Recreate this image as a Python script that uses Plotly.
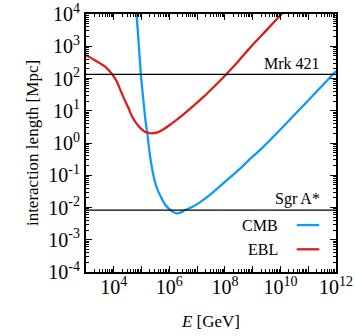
import math
import plotly.graph_objects as go

# CMB interaction length: log10(E/GeV), log10(L/Mpc)
cmb_logE = [4.78, 4.82, 4.90, 4.975, 5.06, 5.14, 5.21, 5.30, 5.39, 5.48, 5.60, 5.72, 5.84, 5.96,
            6.10, 6.26, 6.40, 6.56, 6.80, 7.10, 7.40, 7.94, 8.54, 8.90, 9.26, 10.0, 11.0, 12.0]
cmb_logL = [4.50, 4.00, 3.05, 2.12, 1.38, 0.71, 0.28, -0.37, -0.84, -1.20, -1.50, -1.71, -1.90, -2.02,
            -2.12, -2.18, -2.16, -2.08, -1.99, -1.84, -1.65, -1.25, -0.80, -0.50, -0.22, 0.42, 1.32, 2.23]

# EBL interaction length
ebl_logE = [3.0, 3.05, 3.41, 3.70, 3.94, 4.10, 4.24, 4.42, 4.52, 4.66, 4.82, 4.96, 5.12, 5.26, 5.36,
            5.60, 5.78, 6.00, 6.25, 6.50, 7.22, 7.46, 8.06, 8.50, 8.90, 9.50, 10.04, 10.3]
ebl_logL = [2.72, 2.70, 2.52, 2.36, 2.13, 1.92, 1.64, 1.28, 1.10, 0.82, 0.60, 0.46, 0.35, 0.31, 0.30,
            0.34, 0.42, 0.55, 0.71, 0.88, 1.42, 1.62, 2.14, 2.55, 2.95, 3.50, 4.00, 4.24]

# reference distances [Mpc]
sources = ["Mrk 421", "Sgr A*"]
source_dist = [134.0, 0.0083]

x_range_log = [3, 12]
y_range_log = [-4, 4]
x_tick_exp = list(range(3, 13))
y_tick_exp = list(range(-4, 5))

BLUE = "#0f9af5"
RED = "#d81e1e"
FONT = "Liberation Serif"

fig = go.Figure()
fig.add_trace(go.Scatter(x=[10 ** v for v in cmb_logE], y=[10 ** v for v in cmb_logL],
                         mode="lines", line=dict(color=BLUE, width=2.3, shape="spline", smoothing=0.6),
                         name="CMB", showlegend=False))
fig.add_trace(go.Scatter(x=[10 ** v for v in ebl_logE], y=[10 ** v for v in ebl_logL],
                         mode="lines", line=dict(color=RED, width=2.3, shape="spline", smoothing=0.6),
                         name="EBL", showlegend=False))
for name, d in zip(sources, source_dist):
    fig.add_trace(go.Scatter(x=[10 ** x_range_log[0], 10 ** x_range_log[1]], y=[d, d], mode="lines",
                             line=dict(color="black", width=1.3), showlegend=False, hoverinfo="skip"))
    fig.add_annotation(x=11.48, y=math.log10(d), xref="x", yref="y", text=name,
                       showarrow=False, xanchor="right", yanchor="bottom", yshift=0,
                       font=dict(family=FONT, size=16, color="black"))

# manual legend (text left, sample right)
for label, color, yp in [("CMB", BLUE, 0.182), ("EBL", RED, 0.088)]:
    fig.add_annotation(x=0.775, y=yp, xref="paper", yref="paper", text=label, showarrow=False,
                       xanchor="right", yanchor="middle", font=dict(family=FONT, size=16, color="black"))
    fig.add_shape(type="line", xref="paper", yref="paper", x0=0.843, x1=0.933, y0=yp, y1=yp,
                  line=dict(color=color, width=2.3))

x_text = [("10<sup>%d</sup>" % e) if e % 2 == 0 else "" for e in x_tick_exp]
y_text = ["10<sup>%d</sup>" % e for e in y_tick_exp]

axis_common = dict(type="log", showgrid=False, zeroline=False, showline=True, linecolor="black",
                   linewidth=2, mirror="allticks", ticks="inside", ticklen=6, tickwidth=1.2,
                   tickcolor="black", tickmode="array", automargin=False,
                   minor=dict(ticks="inside", ticklen=3, tickwidth=1, tickcolor="black",
                              dtick="D1", showgrid=False),
                   tickfont=dict(family=FONT, size=20, color="black"))

fig.update_xaxes(**axis_common, range=x_range_log, tickvals=[10 ** e for e in x_tick_exp],
                 ticktext=x_text, ticklabelstandoff=-4,
                 title=dict(text="<i>E</i> [GeV]", font=dict(family=FONT, size=17, color="black"),
                            standoff=18))
fig.update_yaxes(**axis_common, range=y_range_log, tickvals=[10 ** e for e in y_tick_exp],
                 ticktext=y_text,
                 title=dict(text="interaction length [Mpc]", font=dict(family=FONT, size=17, color="black"),
                            standoff=5))

fig.update_layout(width=355, height=336, margin=dict(l=86, r=19, t=14, b=64),
                  plot_bgcolor="white", paper_bgcolor="white", showlegend=False)

fig.write_html("out.html")
